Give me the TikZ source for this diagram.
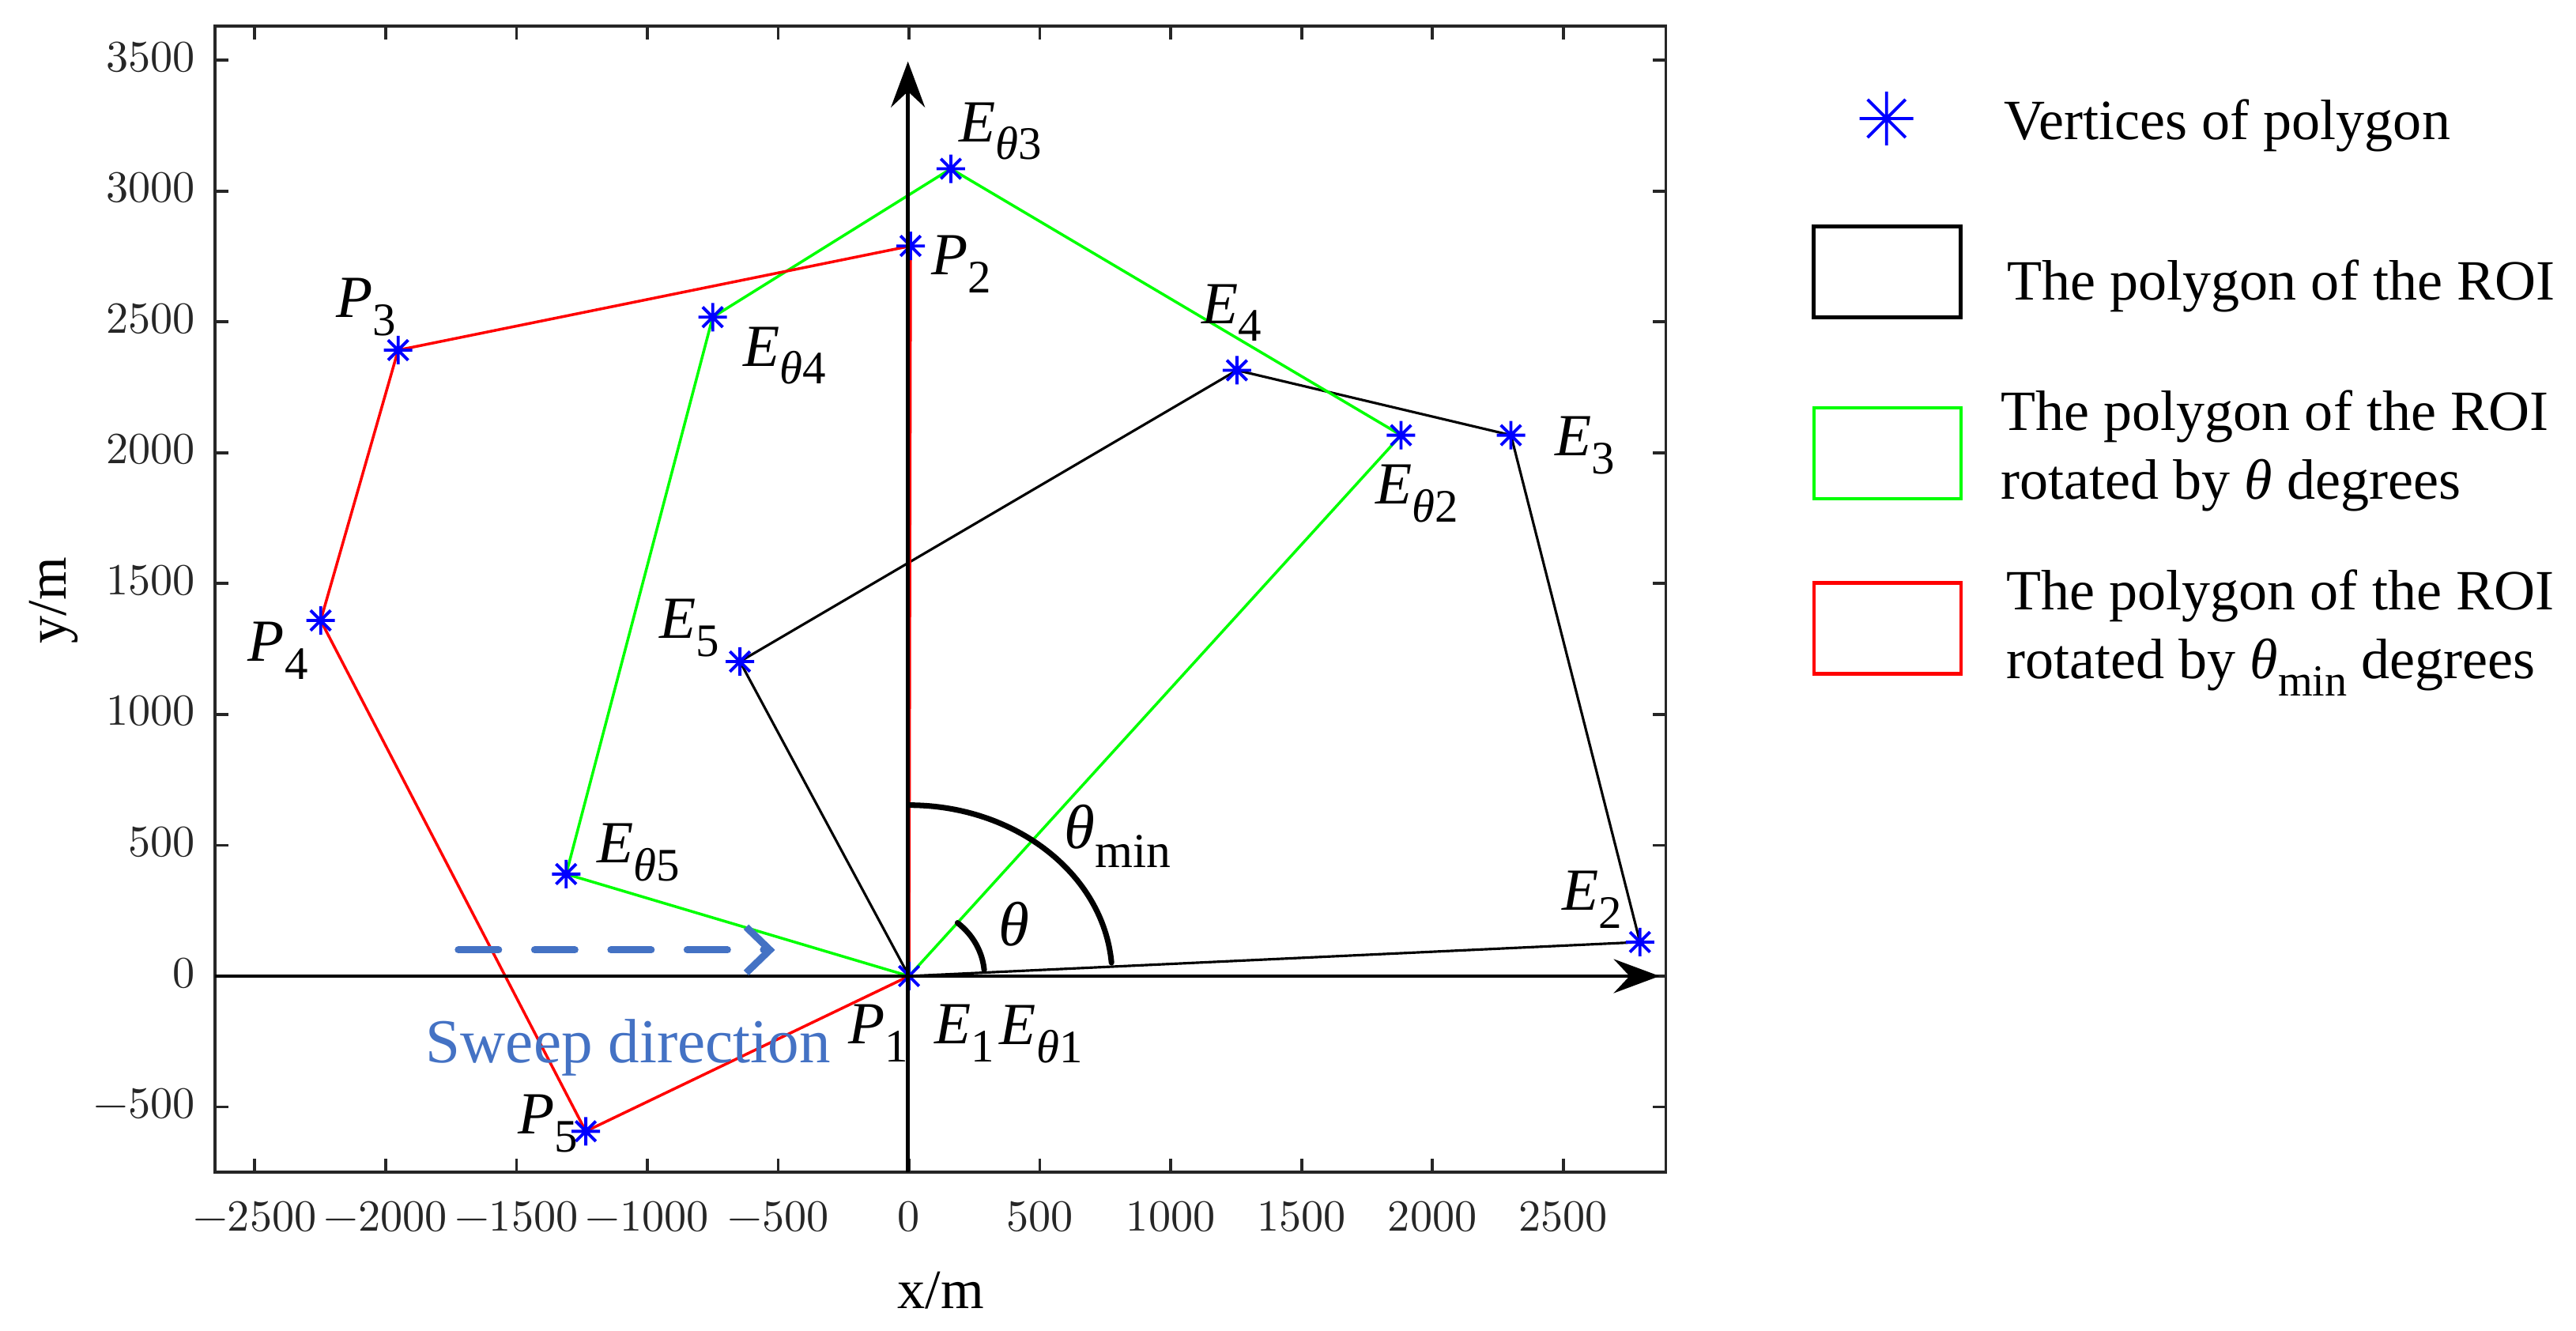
\documentclass[tikz,border=0pt]{standalone}
\usepackage{fontspec}
\setmainfont{Liberation Serif}
\newfontfamily\tickfont{lmroman10-regular.otf}
\usepackage{tikz}
\usetikzlibrary{
    calc,
    arrows.meta
}
\definecolor{axgray}{RGB}{38,38,38}
\definecolor{sweepblue}{RGB}{68,114,196}
\newcommand{\lsub}[1]{\raisebox{-0.3em}{\scalebox{0.78}{#1}}}
\newcommand{\vlab}[2]{\textit{#1}\lsub{#2}}
\newcommand{\ticknum}[1]{\ifnum#1<0 −\the\numexpr-#1\relax\else#1\fi}
\tikzset{
    frameline/.style={draw=axgray, line width=1.05pt},
    ticklab/.style={text=axgray, inner sep=0pt, font=\tickfont\fontsize{16}{19}\selectfont},
    roi/.style={black, line width=0.9pt, line join=round},
    roitheta/.style={green, line width=1pt, line join=round},
    roimin/.style={red, line width=1pt, line join=round},
    vtxline/.style={blue, line width=1.1pt},
    vtx/.pic={\draw[vtxline] (-#1,0) -- (#1,0) (0,-#1) -- (0,#1) (45:#1) -- (225:#1) (135:#1) -- (315:#1);},
    axisline/.style={black, line width=1.3pt, -{Stealth[length=0.58cm, width=0.43cm, inset=0.2cm]}},
    anglearc/.style={black, line width=2pt, line cap=round},
    ptlab/.style={inner sep=0pt, font=\fontsize{21.5}{25}\selectfont},
    anglab/.style={inner sep=0pt, font=\fontsize{22.5}{26}\selectfont},
    sweep/.style={sweepblue, line width=2.56pt, line cap=round, dash pattern=on 0.51cm off 0.455cm,
        -{Straight Barb[length=0.3cm, width=0.58cm]}},
    legbox/.style={line width=1.4pt, minimum width=1.86cm, minimum height=1.15cm, inner sep=0pt},
    legtext/.style={inner sep=0pt, align=left, font=\fontsize{20.5}{24.75}\selectfont},
}

\begin{document}
\begin{tikzpicture}
    \useasboundingbox (0,0) rectangle (32.59,16.84);
    \begin{scope}[shift={(11.50,4.49)}, x=0.003305cm, y=0.003305cm]
        % axes box and ticks
        \draw[frameline] (-2651,-750) rectangle (2892,3630);
        \foreach \x in {-2500,-2000,...,2500} {
            \draw[frameline] (\x,-750) -- ++(0,0.17cm);
            \draw[frameline] (\x,3630) -- ++(0,-0.17cm);
            \node[ticklab, anchor=north, yshift=-0.36cm] (xt\x) at (\x,-750) {\ticknum{\x}};
        }
        \foreach \y in {-500,0,...,3500} {
            \draw[frameline] (-2651,\y) -- ++(0.17cm,0);
            \draw[frameline] (2892,\y) -- ++(-0.17cm,0);
            \node[ticklab, anchor=east, xshift=-0.25cm, yshift=0.04cm] (yt\y) at (-2651,\y) {\ticknum{\y}};
        }

        % vertices
        \coordinate (E1) at (0,0);
        \coordinate (E2) at (2793,130);
        \coordinate (E3) at (2300,2067);
        \coordinate (E4) at (1253,2315);
        \coordinate (E5) at (-646,1202);
        \coordinate (T1) at (0,0);
        \coordinate (T2) at (1880,2067);
        \coordinate (T3) at (160,3085);
        \coordinate (T4) at (-750,2518);
        \coordinate (T5) at (-1310,390);
        \coordinate (P1) at (0,0);
        \coordinate (P2) at (6,2790);
        \coordinate (P3) at (-1952,2392);
        \coordinate (P4) at (-2248,1359);
        \coordinate (P5) at (-1235,-593);

        \draw[roi] (E1) -- (E2) -- (E3) -- (E4) -- (E5) -- cycle;
        \draw[roitheta] (T1) -- (T2) -- (T3) -- (T4) -- (T5) -- cycle;
        \draw[roimin] (P1) -- (P2) -- (P3) -- (P4) -- (P5) -- cycle;
        \foreach \v in {E1,E2,E3,E4,E5,T2,T3,T4,T5,P2,P3,P4,P5}
            \pic at (\v) {vtx=0.18cm};

        % coordinate axes
        \coordinate (xl) at (-2651,0);
        \coordinate (xr) at (2868,0);
        \coordinate (yb) at (-4,-750);
        \coordinate (yt) at (-4,3495);
        \draw[axisline] (xl) -- (xr);
        \draw[axisline] (yb) -- (yt);

        % angles
        \draw[anglearc] (E1) ++(5:0.955cm and 0.88cm) arc[start angle=5, end angle=50, x radius=0.955cm, y radius=0.88cm];
        \draw[anglearc] (E1) ++(4.5:2.57cm and 2.163cm) arc[start angle=4.5, end angle=90, x radius=2.57cm, y radius=2.163cm];
        \node[anglab] (lth) at (401,199) {\textit{θ}};
        \node[anglab] (lthmin) at (796,536) {\textit{θ}\lsub{min}};

        % vertex labels
        \node[ptlab] (lP1) at (-118,-219) {\vlab{P}{1}};
        \node[ptlab] (lE1) at (213,-219) {\vlab{E}{1}};
        \node[ptlab] (lT1) at (505,-222) {\vlab{E}{\textit{θ}1}};
        \node[ptlab] (lE2) at (2611,293) {\vlab{E}{2}};
        \node[ptlab] (lE3) at (2584,2027) {\vlab{E}{3}};
        \node[ptlab] (lT2) at (1942,1843) {\vlab{E}{\textit{θ}2}};
        \node[ptlab] (lE4) at (1233,2535) {\vlab{E}{4}};
        \node[ptlab] (lT3) at (349,3228) {\vlab{E}{\textit{θ}3}};
        \node[ptlab] (lP2) at (201,2720) {\vlab{P}{2}};
        \node[ptlab] (lP3) at (-2073,2557) {\vlab{P}{3}};
        \node[ptlab] (lT4) at (-474,2371) {\vlab{E}{\textit{θ}4}};
        \node[ptlab] (lP4) at (-2411,1244) {\vlab{P}{4}};
        \node[ptlab] (lE5) at (-839,1331) {\vlab{E}{5}};
        \node[ptlab] (lT5) at (-1033,472) {\vlab{E}{\textit{θ}5}};
        \node[ptlab] (lP5) at (-1380,-564) {\vlab{P}{5}};

        % sweep direction
        \coordinate (sw0) at (-1722,100);
        \coordinate (sw1) at (-512,100);
        \draw[sweep] (sw0) -- (sw1);
        \node[inner sep=0pt, text=sweepblue, font=\fontsize{22.5}{27}\selectfont] (lsweep) at (-1073,-274) {Sweep direction};
    \end{scope}

    % axis labels
    \node[font=\fontsize{20}{24}\selectfont, inner sep=0pt] (xlab) at (11.90,0.51) {x/m};
    \node[font=\fontsize{20}{24}\selectfont, inner sep=0pt, rotate=90] (ylab) at (0.68,9.24) {y/m};

    % legend
    \pic at (23.867,15.34) {vtx=0.34cm};
    \node[legbox, draw=black] (kroi) at (23.875,13.40) {};
    \node[legbox, draw=green] (ktheta) at (23.88,11.105) {};
    \node[legbox, draw=red] (kmin) at (23.88,8.893) {};
    \node[legtext, anchor=base west] (tvtx) at (25.35,15.07) {Vertices of polygon};
    \node[legtext, anchor=base west] (troi) at (25.39,13.045) {The polygon of the ROI};
    \node[legtext, anchor=west] (ttheta) at (25.31,11.133) {The polygon of the ROI\\rotated by \textit{θ} degrees};
    \node[legtext, anchor=west] (tmin) at (25.38,8.835) {The polygon of the ROI\\rotated by \textit{θ}\lsub{min} degrees};
\end{tikzpicture}
\end{document}
